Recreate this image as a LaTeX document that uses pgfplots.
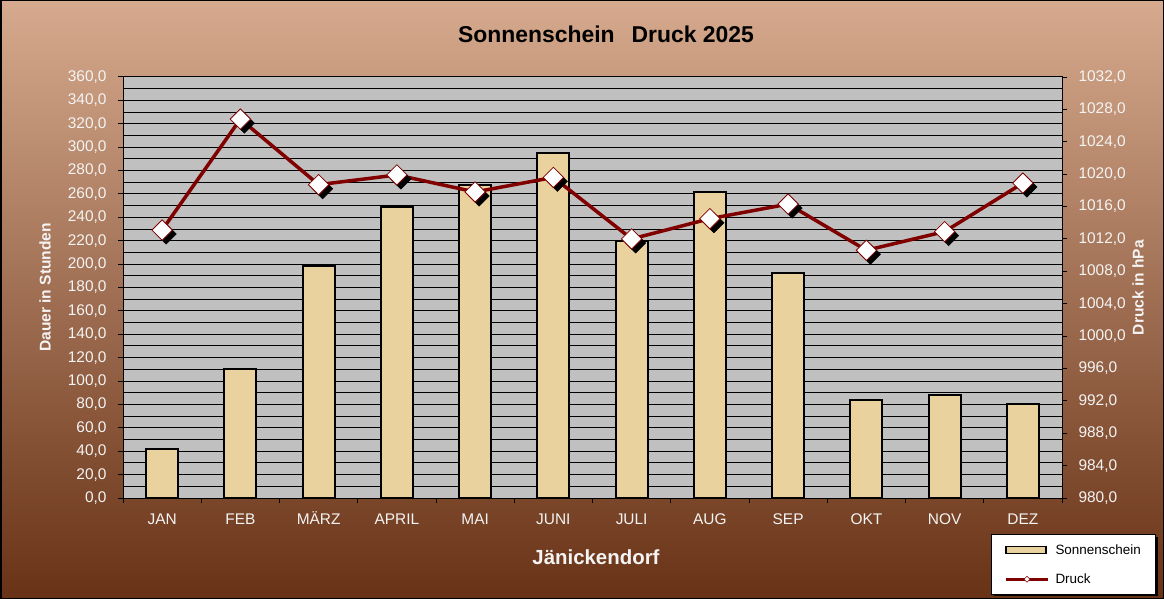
\documentclass[border=0pt]{standalone}
\usepackage{pgfplots}
\pgfplotsset{compat=1.18}
\usepackage{pgfplotstable}
\usepackage{fontspec}
\setmainfont{Liberation Sans}
\definecolor{bgtop}{RGB}{214,170,142}
\definecolor{bgmid}{RGB}{192,120,72}
\definecolor{bgbot}{RGB}{104,50,22}
\definecolor{barfill}{RGB}{233,210,158}
\definecolor{druck}{RGB}{128,0,0}
\definecolor{lbl}{RGB}{244,244,244}
\definecolor{plotbg}{RGB}{192,192,192}

\pgfplotstableread{
x sonne druck
0  42  1013.1
1  110 1026.8
2  198 1018.7
3  249 1019.9
4  268 1017.8
5  295 1019.6
6  220 1012.0
7  262 1014.5
8  192 1016.3
9  84  1010.6
10 88  1012.9
11 80  1018.9
}\data

\pgfplotsset{
  common/.style={
    at={(123bp,101bp)}, anchor=south west,
    width=939bp, height=421bp, scale only axis,
    xmin=-0.5, xmax=11.5,
    tick label style={color=lbl, font=\fontsize{15.5}{17}\selectfont},
    /pgf/number format/assume math mode=true,
    /pgf/number format/fixed,
    /pgf/number format/fixed zerofill,
    /pgf/number format/precision=1,
    /pgf/number format/use comma,
    /pgf/number format/1000 sep={},
    tick align=outside,
    major tick length=5bp, minor tick length=5bp,
    tick style={black, line width=1bp},
  }
}

\begin{document}
\begin{tikzpicture}
\shade[top color=bgtop, middle color=bgmid, bottom color=bgbot] (0bp,0bp) rectangle (1164bp,599bp);
\draw[black, line width=1.5bp] (0.75bp,0.75bp) rectangle (1163.25bp,598.25bp);
% legend shadow
\fill[black] (994bp,3bp) rectangle (1158bp,62bp);

\begin{axis}[common,
  ymin=0, ymax=360,
  axis background/.style={fill=plotbg},
  axis line style={black, line width=1bp},
  xtick={0,...,11},
  xticklabels={JAN,FEB,MÄRZ,APRIL,MAI,JUNI,JULI,AUG,SEP,OKT,NOV,DEZ},
  major x tick style={draw=none},
  minor xtick={-0.5,0.5,...,11.5},
  xtick pos=bottom,
  xticklabel style={anchor=base, yshift=-21bp},
  ytick={0,20,...,360},
  ytick pos=left,
  yticklabel style={xshift=-8bp},
  ymajorgrids,
  grid style={black, line width=1bp},
  extra y ticks={10,30,...,350},
  extra y tick labels={},
  extra y tick style={grid=major, major tick length=0bp},
  title={Sonnenschein\hspace{17bp}Druck 2025},
  title style={at={(axis description cs:0.5144,1.0879)}, anchor=center, font=\fontsize{23}{25}\selectfont\bfseries, color=black},
  xlabel={Jänickendorf},
  xlabel style={at={(axis description cs:0.5037,-0.1401)}, anchor=center, font=\fontsize{20.5}{22}\selectfont\bfseries, color=lbl},
  ylabel={Dauer in Stunden},
  ylabel style={at={(axis description cs:-0.0831,0.5)}, anchor=center, font=\fontsize{15.6}{17}\selectfont\bfseries, color=lbl},
]
\addplot[ybar, bar width=32bp, fill=barfill, draw=black, line width=2bp] table[x=x, y=sonne] {\data};
\end{axis}

\begin{axis}[common,
  ymin=980, ymax=1032,
  axis x line=none,
  axis y line*=right,
  axis line style={draw=none},
  ytick={980,984,...,1032},
  yticklabel style={xshift=8bp},
  ylabel={Druck in hPa},
  ylabel style={at={(axis description cs:1.0809,0.5)}, anchor=center, rotate=0, font=\fontsize{15.6}{17}\selectfont\bfseries, color=lbl},
  legend style={at={(0.9244,-0.0855)}, anchor=north west, draw=black, line width=1bp, fill=white,
    font=\fontsize{13.5}{15}\selectfont, text=black, row sep=14bp, inner xsep=13bp, inner ysep=8bp},
  legend cell align=left,
]
\addlegendimage{legend image code/.code={\draw[fill=barfill, draw=black, line width=1.5bp] (0bp,-3.5bp) rectangle (40bp,3.5bp);}}
\addlegendentry{\hspace{4bp}Sonnenschein}
\addplot[druck, line width=3.5bp, no marks,
  legend image code/.code={\draw[druck, line width=3bp] (0bp,0bp) -- (42bp,0bp);
    \draw[fill=white, draw=druck, line width=0.5bp] (21bp,3bp) -- (24bp,0bp) -- (21bp,-3bp) -- (18bp,0bp) -- cycle;}]
  table[x=x, y=druck] {\data};
\addlegendentry{\hspace{4bp}Druck}
\addplot[only marks, forget plot, mark=square*, mark size=7.2bp,
  mark options={xshift=4bp, yshift=-4bp, rotate=45, fill=black, draw=black}]
  table[x=x, y=druck] {\data};
\addplot[only marks, forget plot, mark=square*, mark size=7.2bp,
  mark options={rotate=45, fill=white, draw=druck, line width=0.8bp}]
  table[x=x, y=druck] {\data};
\end{axis}
\end{tikzpicture}
\end{document}
